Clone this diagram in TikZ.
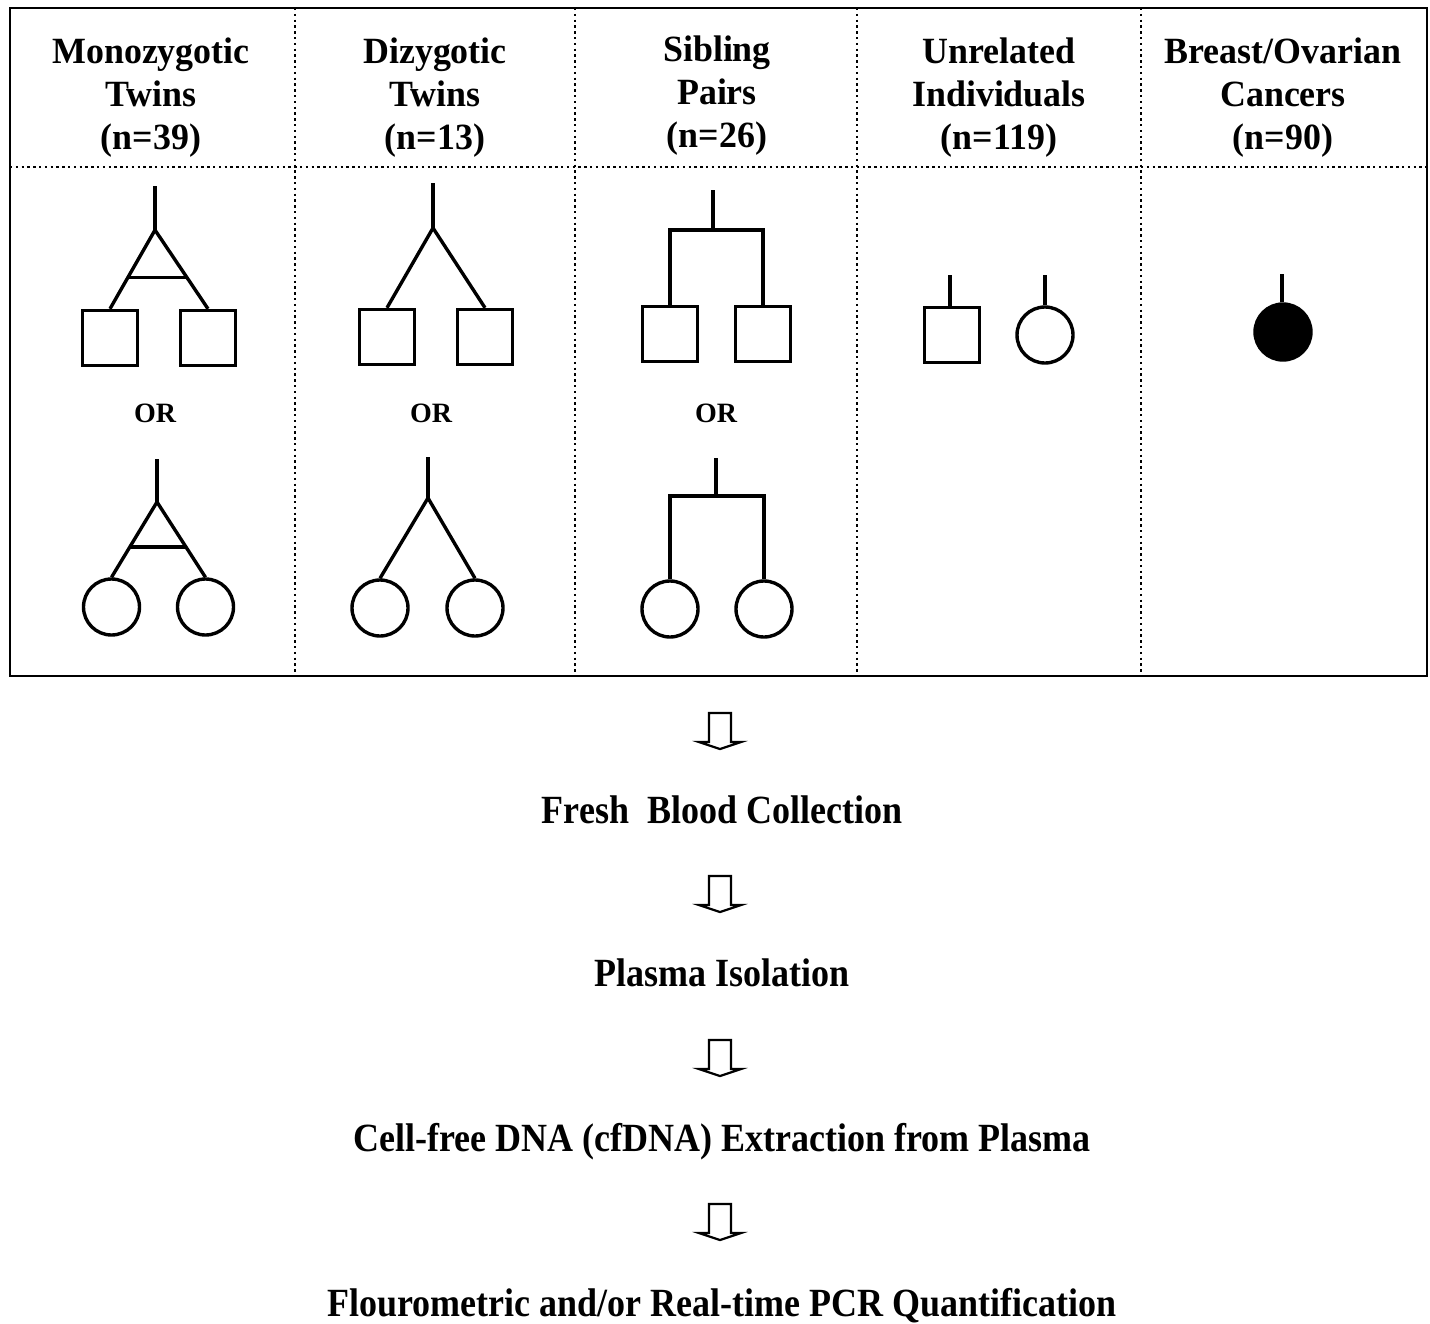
\documentclass[tikz,border=0pt]{standalone}
\usepackage{fontspec}
\setmainfont{Liberation Serif}
\newfontfamily\condfont{Liberation Serif}[FakeStretch=0.90]
\newfontfamily\headfont{Liberation Serif}[FakeStretch=0.97]
\usetikzlibrary{calc}
\begin{document}
\begin{tikzpicture}[x=1pt,y=-1pt,
  sym/.style={draw, line width=3.4pt, inner sep=0pt},
  male/.style={sym, rectangle, minimum size=55pt},
  female/.style={sym, circle, minimum size=56pt},
  affected/.style={female, fill=black},
  lineage/.style={line width=3.4pt},
  frame/.style={line width=2.8pt},
  grid/.style={line width=2.6pt, dash pattern=on 2.4pt off 3.4pt},
  headtext/.style={font=\headfont\fontsize{37}{43}\selectfont\bfseries, align=center, inner sep=0pt, anchor=north},
  flowtext/.style={font=\condfont\fontsize{40}{44}\selectfont\bfseries, inner sep=0pt, anchor=base},
  ortext/.style={font=\fontsize{28}{32}\selectfont\bfseries, inner sep=0pt},
  blockarrow/.style={line width=2.2pt, line join=miter}
]
\useasboundingbox (0,0) rectangle (1430,1323);

% frame and grid
\coordinate (TL) at (10,8);
\coordinate (BR) at (1427,676);
\draw[frame] (TL) rectangle (BR);
\draw[grid] (10,167) -- (1427,167);
\foreach \gx in {295,575,857,1141} \draw[grid] (\gx,8) -- (\gx,676);

% headers
\node[headtext] (h1) at (151,38) {Monozygotic\\Twins\\(n=39)};
\node[headtext] (h2) at (435,38) {Dizygotic\\Twins\\(n=13)};
\node[headtext] (h3) at (717,36) {Sibling\\Pairs\\(n=26)};
\node[headtext] (h4) at (999,38) {Unrelated\\Individuals\\(n=119)};
\node[headtext] (h5) at (1283,38) {Breast/Ovarian\\Cancers\\(n=90)};

% --- Column 1: monozygotic twins
\coordinate (m1s) at (155,186);
\coordinate (m1a) at (155,230);
\node[male] (m1l) at (110,338) {};
\node[male] (m1r) at (208,338) {};
\draw[lineage] (m1s) -- (m1a);
\draw[lineage, line join=miter] (m1l.north) -- (m1a) -- (m1r.north);
\draw[lineage] ($(m1a)!0.6!(m1l.north)$) -- ($(m1a)!0.6!(m1r.north)$);
\node[ortext] (or1) at (155,413) {OR};
\coordinate (m2s) at (157,459);
\coordinate (m2a) at (157,502);
\node[female] (m2l) at (111.5,607) {};
\node[female] (m2r) at (205.5,607) {};
\draw[lineage] (m2s) -- (m2a);
\draw[lineage, line join=miter] (m2l.north) -- (m2a) -- (m2r.north);
\draw[lineage] ($(m2a)!0.6!(m2l.north)$) -- ($(m2a)!0.6!(m2r.north)$);

% --- Column 2: dizygotic twins
\coordinate (d1s) at (433,183);
\coordinate (d1a) at (433,228);
\node[male] (d1l) at (387,337) {};
\node[male] (d1r) at (485,337) {};
\draw[lineage] (d1s) -- (d1a);
\draw[lineage, line join=miter] (d1l.north) -- (d1a) -- (d1r.north);
\node[ortext] (or2) at (431,413) {OR};
\coordinate (d2s) at (428,457);
\coordinate (d2a) at (428,498);
\node[female] (d2l) at (380,608) {};
\node[female] (d2r) at (475,608) {};
\draw[lineage] (d2s) -- (d2a);
\draw[lineage, line join=miter] (d2l.north) -- (d2a) -- (d2r.north);

% --- Column 3: sibling pairs
\coordinate (s1s) at (713,190);
\coordinate (s1a) at (713,230);
\node[male] (s1l) at (670,334) {};
\node[male] (s1r) at (763,334) {};
\draw[lineage] (s1s) -- (s1a);
\draw[lineage, line join=miter] (s1l.north) |- (s1a) -| (s1r.north);
\node[ortext] (or3) at (716,413) {OR};
\coordinate (s2s) at (716,458);
\coordinate (s2a) at (716,496);
\node[female] (s2l) at (670,609) {};
\node[female] (s2r) at (764,609) {};
\draw[lineage] (s2s) -- (s2a);
\draw[lineage, line join=miter] (s2l.north) |- (s2a) -| (s2r.north);

% --- Column 4: unrelated individuals
\node[male] (u1) at (952,335) {};
\node[female] (u2) at (1045,335) {};
\coordinate (u1s) at (950,275);
\coordinate (u2s) at (1045,275);
\draw[lineage] (u1s) -- (u1s |- u1.north);
\draw[lineage] (u2s) -- (u2.north);

% --- Column 5: breast/ovarian cancers
\node[affected] (c1) at (1283,332) {};
\coordinate (c1s) at (1282,274);
\draw[lineage] (c1s) -- (c1s |- c1.north);

% --- workflow
\node[flowtext] (f1) at (722,823) {Fresh\ \ Blood Collection};
\node[flowtext] (f2) at (722,986) {Plasma Isolation};
\node[flowtext] (f3) at (722,1151) {Cell-free DNA (cfDNA) Extraction from Plasma};
\node[flowtext] (f4) at (722,1316) {Flourometric and/or Real-time PCR Quantification};

\foreach \ay [count=\i] in {713,876,1040,1204}{
  \coordinate (ar\i) at (720,\ay);
  \draw[blockarrow] ($(ar\i)+(-11,0)$) -- ($(ar\i)+(11,0)$) -- ($(ar\i)+(11,29)$)
    -- ($(ar\i)+(21,29)$) -- ($(ar\i)+(0,36)$) -- ($(ar\i)+(-21,29)$)
    -- ($(ar\i)+(-11,29)$) -- cycle;
}
\end{tikzpicture}
\end{document}
